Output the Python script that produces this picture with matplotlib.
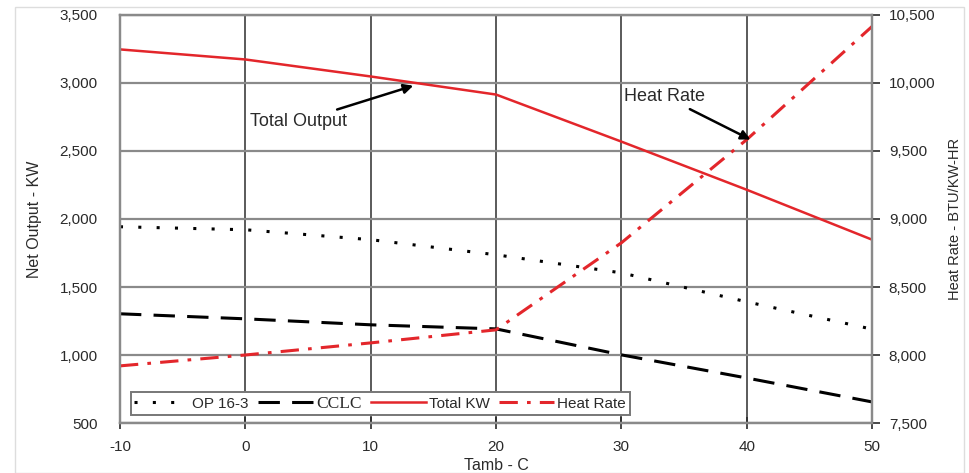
import matplotlib.pyplot as plt
from matplotlib.ticker import FuncFormatter

plt.rcParams['font.family'] = ['Liberation Sans', 'DejaVu Sans']

# data
tamb = [-10, 0, 10, 20, 30, 40, 50]
total_kw = [3247, 3173, 3048, 2915, 2569, 2215, 1848]
op16 = [1943, 1921, 1848, 1737, 1604, 1391, 1190]
cclc = [1303, 1266, 1222, 1192, 1001, 831, 655]
heat_rate = [7920, 8000, 8089, 8185, 8825, 9584, 10416]

left_ticks = [500, 1000, 1500, 2000, 2500, 3000, 3500]
right_ticks = [7500, 8000, 8500, 9000, 9500, 10000, 10500]
x_ticks = [-10, 0, 10, 20, 30, 40, 50]

red = '#e3262b'
txt = '#2a2a2a'
comma = FuncFormatter(lambda v, p: '{:,.0f}'.format(v))
plain = FuncFormatter(lambda v, p: '{:d}'.format(int(v)))

fig = plt.figure(figsize=(9.69, 4.73), dpi=100)
ax = fig.add_axes([0.1238, 0.1057, 0.7762, 0.8626])
ax2 = ax.twinx()

l1, = ax.plot(tamb, op16, color='black', lw=2.2, dashes=(1, 5), label='OP 16-3')
l2, = ax.plot(tamb, cclc, color='black', lw=2.2, dashes=(7, 4), label='CCLC')
l3, = ax.plot(tamb, total_kw, color=red, lw=1.8, label='Total KW')
l4, = ax2.plot(tamb, heat_rate, color=red, lw=2.2, dashes=(6, 3, 1.2, 3), label='Heat Rate')

ax.set_xlim(-10, 50)
ax.set_ylim(500, 3500)
ax2.set_ylim(7500, 10500)
ax.set_xticks(x_ticks)
ax.set_yticks(left_ticks)
ax2.set_yticks(right_ticks)
ax.xaxis.set_major_formatter(plain)
ax.yaxis.set_major_formatter(comma)
ax2.yaxis.set_major_formatter(comma)

ax.grid(axis='y', color='#8a8a8a', lw=1.6)
ax.grid(axis='x', color='#5a5a5a', lw=1.4)
ax.set_axisbelow(True)
for a in (ax, ax2):
    for s in a.spines.values():
        s.set_color('#8a8a8a')
        s.set_linewidth(1.6)
    a.tick_params(labelsize=11, colors=txt, length=5, width=1.2)
ax.tick_params(axis='x', direction='inout', length=8, pad=8)
ax.tick_params(axis='y', length=0, pad=16)
ax2.tick_params(axis='y', length=6, pad=6)

ax.set_xlabel('Tamb - C', fontsize=11.5, color=txt, va='center', ha='center')
ax.xaxis.set_label_coords(0.5, -0.103)
ax.set_ylabel('Net Output - KW', fontsize=11.5, color=txt, va='center', ha='center')
ax.yaxis.set_label_coords(-0.113, 0.5)
ax2.set_ylabel('Heat Rate - BTU/KW-HR', fontsize=10.5, color=txt, rotation=90,
               va='center', ha='center')
ax2.yaxis.set_label_coords(1.110, 0.5)

ax.annotate('Total Output', xy=(13.4, 2980), xytext=(8.1, 2716),
            ha='right', va='center', fontsize=13, color=txt,
            arrowprops=dict(arrowstyle='-|>', color='black', lw=1.8,
                            mutation_scale=14, shrinkA=2, shrinkB=0))
ax2.annotate('Heat Rate', xy=(40.3, 9584), xytext=(36.7, 9900),
             ha='right', va='center', fontsize=13, color=txt,
             arrowprops=dict(arrowstyle='-|>', color='black', lw=1.8,
                             mutation_scale=14, shrinkA=2, shrinkB=0))

leg = ax2.legend([l1, l2, l3, l4], ['OP 16-3', 'CCLC', 'Total KW', 'Heat Rate'],
                 loc='lower left', bbox_to_anchor=(0.004, 0.0), ncol=4,
                 fontsize=11, handlelength=3.6, handletextpad=0.2,
                 columnspacing=0.6, borderpad=0.25, fancybox=False,
                 framealpha=1, edgecolor='#777777')
leg.get_frame().set_linewidth(1.4)
for t in leg.get_texts():
    t.set_color(txt)
leg.get_texts()[1].set_fontfamily(['Liberation Serif', 'DejaVu Serif'])
leg.get_texts()[1].set_fontsize(12.5)

fig.patches.append(plt.Rectangle((0.015, 0.0), 0.98, 0.985, transform=fig.transFigure,
                                 fill=False, edgecolor='#dddddd', lw=1))

fig.savefig('out.png', dpi=100)
